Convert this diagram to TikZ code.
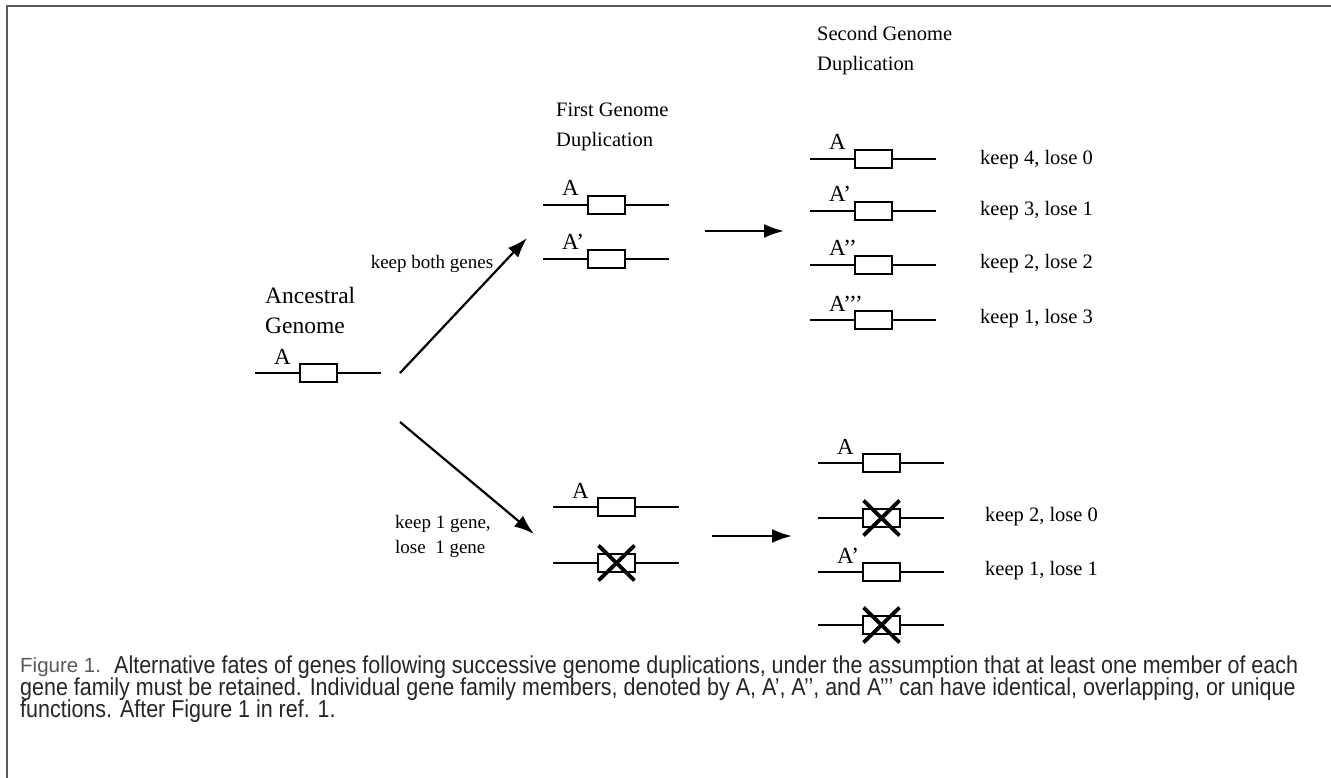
\documentclass[tikz,border=0pt]{standalone}
\usepackage{fontspec}
\setmainfont{Liberation Serif}
\newfontfamily\capfont[FakeStretch=0.88]{Liberation Sans}
\newfontfamily\figfont{Liberation Sans}
\usetikzlibrary{arrows.meta}
\tikzset{
  genebox/.style={draw, line width=1.8pt, minimum width=37pt, minimum height=18pt, inner sep=0pt, fill=white},
  geneline/.style={line width=1.8pt},
  genelabel/.style={anchor=base west, inner sep=0pt, font=\fontsize{23}{23}\selectfont},
  title/.style={anchor=west, align=left, inner sep=0pt, font=\fontsize{20.5}{30}\selectfont},
  fate/.style={anchor=west, inner sep=0pt, font=\fontsize{20.5}{20.5}\selectfont},
  bigarrow/.style={line width=2.2pt, -{Latex[length=20pt,width=14pt]}},
  cross/.style={line width=3.8pt},
  caption/.style={anchor=west, inner sep=0pt, text=black!85, font=\capfont\fontsize{24.4}{22}\selectfont},
  figlabel/.style={anchor=west, inner sep=0pt, text=black!65, font=\figfont\fontsize{20.5}{22}\selectfont},
  frame/.style={draw=black!65, line width=2.2pt}
}
% #1 name, #2 left x, #3 y, #4 label
\newcommand\generow[4]{%
  \node[genebox] (#1) at (#2+63.5,#3) {};
  \coordinate (#1l) at (#2,#3);
  \coordinate (#1r) at (#2+126,#3);
  \draw[geneline] (#1l) -- (#1.west);
  \draw[geneline] (#1.east) -- (#1r);
  \node[genelabel] (#1t) at (#2+19,#3-9) {#4};
}
\newcommand\crossout[1]{%
  \draw[cross] ([shift={(-18,-17.5)}]#1.center) -- ([shift={(18,17.5)}]#1.center);
  \draw[cross] ([shift={(-18,17.5)}]#1.center) -- ([shift={(18,-17.5)}]#1.center);
}
\begin{document}
\begin{tikzpicture}[x=1pt,y=-1pt]
\useasboundingbox (0,0) rectangle (1331,778);
\fill[white] (0,0) rectangle (1331,778);
% frame
\coordinate (f1) at (7,800);
\coordinate (f2) at (7,6);
\coordinate (f3) at (1340,6);
\draw[frame] (f1) -- (f2) -- (f3);

% titles
\node[title, font=\fontsize{23.5}{30}\selectfont] (anc) at (265,310) {Ancestral\\Genome};
\node[title] (first) at (556,127) {First Genome\\Duplication};
\node[title] (second) at (817,51) {Second Genome\\Duplication};

% ancestral gene
\generow{a0}{255}{373}{A}

% first duplication
\generow{f1g}{543}{205}{A}
\generow{f2g}{543}{259}{A’}
\generow{f3g}{553}{507}{A}
\generow{f4g}{553}{563}{}
\crossout{f4g}

% second duplication, upper
\generow{s1}{810}{159}{A}
\generow{s2}{810}{211}{A’}
\generow{s3}{810}{265}{A’’}
\generow{s4}{810}{320}{A’’’}
\node[fate] (k1) at (980,160) {keep 4, lose 0};
\node[fate] (k2) at (980,211) {keep 3, lose 1};
\node[fate] (k3) at (980,264) {keep 2, lose 2};
\node[fate] (k4) at (980,319) {keep 1, lose 3};

% second duplication, lower
\generow{t1}{818}{463}{A}
\generow{t2}{818}{518}{}
\crossout{t2}
\generow{t3}{818}{572}{A’}
\generow{t4}{818}{625}{}
\crossout{t4}
\node[fate] (m1) at (985,517) {keep 2, lose 0};
\node[fate] (m2) at (985,571) {keep 1, lose 1};

% big arrows
\coordinate (up0) at (400,373);
\coordinate (up1) at (527,238);
\coordinate (dn0) at (400,422);
\coordinate (dn1) at (534,534);
\draw[bigarrow] (up0) -- (up1);
\draw[bigarrow] (dn0) -- (dn1);
\node[fate, anchor=center, font=\fontsize{19}{19}\selectfont] (kb) at (432,264) {keep both genes};
\node[fate, anchor=west, align=left, font=\fontsize{19}{25}\selectfont] (k1g) at (395,536) {keep 1 gene,\\lose\ \ 1 gene};

% horizontal arrows
\coordinate (h1a) at (705,231);
\coordinate (h1b) at (784,231);
\coordinate (h2a) at (712,536);
\coordinate (h2b) at (792,536);
\draw[bigarrow] (h1a) -- (h1b);
\draw[bigarrow] (h2a) -- (h2b);

% caption
\node[figlabel] (fig) at (20,667) {Figure 1.};
\node[caption] (c1) at (114,667) {Alternative fates of genes following successive genome duplications, under the assumption that at least one member of each};
\node[caption] (c2) at (20,689) {gene family must be retained. Individual gene family members, denoted by A, A’, A’’, and A’’’ can have identical, overlapping, or unique};
\node[caption] (c3) at (20,711) {functions. After Figure 1 in ref. 1.};
\end{tikzpicture}
\end{document}
